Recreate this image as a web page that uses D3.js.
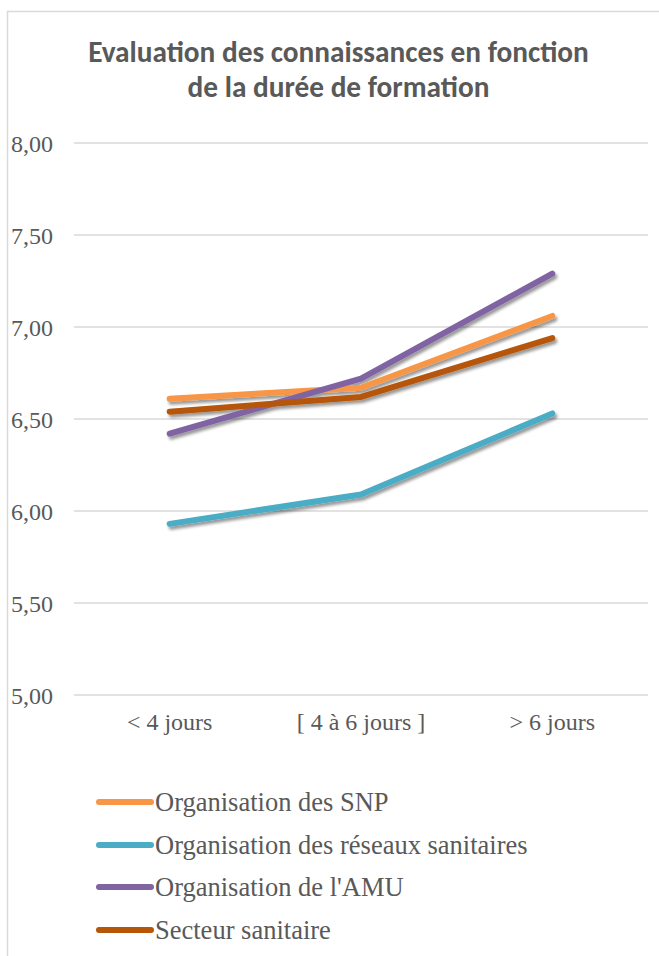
<!DOCTYPE html>
<html><head><meta charset="utf-8">
<script src="https://cdn.jsdelivr.net/npm/d3@7"></script>
<style>body{margin:0;background:#fff}svg{display:block}</style>
</head><body>
<svg id="c" width="659" height="956"></svg>
<script>
const categories = ["< 4 jours", "[ 4 à 6 jours ]", "> 6 jours"];
const seriesNames = ["Organisation des SNP", "Organisation des réseaux sanitaires", "Organisation de l'AMU", "Secteur sanitaire"];
const snp = [6.61, 6.67, 7.06];
const reseaux = [5.93, 6.09, 6.53];
const amu = [6.42, 6.72, 7.29];
const secteur = [6.54, 6.62, 6.94];
const yTicks = [5.0, 5.5, 6.0, 6.5, 7.0, 7.5, 8.0];
const colors = ["#F79646", "#4BACC6", "#8064A2", "#B65708"];
const title = ["Evaluation des connaissances en fonction", "de la durée de formation"];

const SERIF = '"Liberation Serif"';
const series = [snp, reseaux, amu, secteur];
const svg = d3.select("#c");
const defs = svg.append("defs");
const f = defs.append("filter").attr("id","sh").attr("x","-20%").attr("y","-50%").attr("width","140%").attr("height","200%");
f.append("feDropShadow").attr("dx",2).attr("dy",3).attr("stdDeviation",1.6).attr("flood-color","#000").attr("flood-opacity",0.4);

svg.append("rect").attr("x",7.5).attr("y",11.5).attr("width",700).attr("height",1000)
  .attr("fill","#fff").attr("stroke","#d9d9d9").attr("stroke-width",1.5);

// title
const tg = svg.append("g");
title.forEach((t,i)=>{
  tg.append("text").attr("x",338.5).attr("y",[62,97][i]).attr("text-anchor","middle")
    .style("font-family",'"Carlito"').style("font-weight","bold")
    .style("font-size","20px").attr("fill","#595959").text(t);
});
const w0 = tg.select("text").node().getComputedTextLength();
tg.selectAll("text").style("font-size",(20*501/w0)+"px");

const x = d3.scaleBand().domain(categories).range([74,648]);
const y = d3.scaleLinear().domain([5,8]).range([695,143]);

svg.append("g").selectAll("line").data(yTicks).join("line")
  .attr("x1",74).attr("x2",648).attr("y1",d=>y(d)).attr("y2",d=>y(d))
  .attr("stroke","#d9d9d9").attr("stroke-width",1.5);

const fmt = d => d.toFixed(2).replace(".", ",");
const ya = svg.append("g").attr("transform","translate(53,0)")
  .call(d3.axisLeft(y).tickValues(yTicks).tickFormat(fmt).tickSize(0).tickPadding(0));
ya.attr("font-family",null).attr("font-size",null);
ya.select(".domain").remove();
ya.selectAll("text").style("font-family",SERIF).style("font-size","24px").attr("fill","#595959").attr("dy","0.35em");

const xa = svg.append("g").attr("transform","translate(0,722)")
  .call(d3.axisBottom(x).tickSize(0).tickPadding(0));
xa.attr("font-family",null).attr("font-size",null);
xa.select(".domain").remove();
xa.selectAll("text").style("font-family",SERIF).style("font-size","24px").attr("fill","#595959").attr("dy","0.35em");

const line = d3.line().x((d,i)=>x(categories[i])+x.bandwidth()/2).y(d=>y(d));
svg.append("g").attr("filter","url(#sh)").selectAll("path").data(series).join("path")
  .attr("d",line).attr("fill","none").attr("stroke",(d,i)=>colors[i])
  .attr("stroke-width",6).attr("stroke-linecap","round").attr("stroke-linejoin","round");

// legend
const lg = svg.append("g");
const rows = [802,845,887,930];
seriesNames.forEach((n,i)=>{
  lg.append("line").attr("x1",99).attr("x2",151).attr("y1",rows[i]).attr("y2",rows[i])
    .attr("stroke",colors[i]).attr("stroke-width",6).attr("stroke-linecap","round");
  lg.append("text").attr("x",155).attr("y",rows[i]).attr("dy","0.35em")
    .style("font-family",SERIF).style("font-size","26.5px").attr("fill","#595959").text(n);
});
</script>
</body></html>
